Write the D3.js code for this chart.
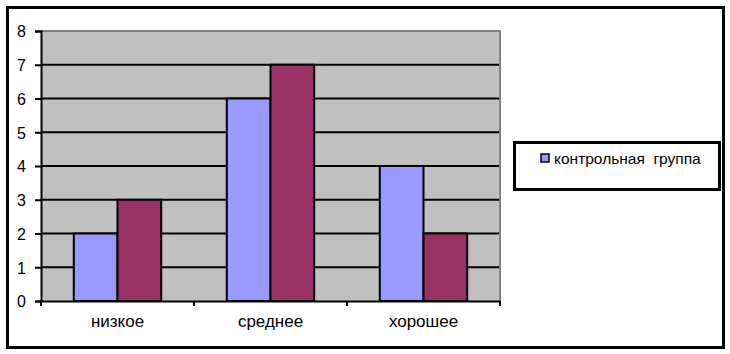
<!DOCTYPE html>
<html>
<head>
<meta charset="utf-8">
<script src="https://cdn.jsdelivr.net/npm/d3@7"></script>
<style>
  html, body { margin: 0; padding: 0; background: #fff; }
  svg text { font-family: 'Liberation Sans', Arial, sans-serif; fill: #000; }
</style>
</head>
<body>
<div id="chart"></div>
<script>
// values
const categories = ['низкое', 'среднее', 'хорошее'];
const seriesNames = ['контрольная  группа', 'экспериментальная группа'];
const controlValues = [2, 6, 4];
const experimentValues = [3, 7, 2];
const yTicks = [0, 1, 2, 3, 4, 5, 6, 7, 8];

const colors = ['#9999ff', '#993366'];

const width = 730;
const height = 354;
const plot = { left: 41, top: 31, right: 500, bottom: 301 };

const svg = d3.select('#chart').append('svg')
  .attr('width', width)
  .attr('height', height);

// outer frame
svg.append('rect')
  .attr('x', 7.5).attr('y', 7.5)
  .attr('width', 716).attr('height', 340)
  .attr('fill', '#fff')
  .attr('stroke', '#000')
  .attr('stroke-width', 3);

const x = d3.scaleBand()
  .domain(categories)
  .range([plot.left, plot.right])
  .paddingInner(0)
  .paddingOuter(0);

const y = d3.scaleLinear()
  .domain([0, 8])
  .range([plot.bottom, plot.top]);

// inner split of each category: 1.5 bar widths of gap, split on both sides
const barW = x.bandwidth() / 3.5;
const sub = d3.scaleBand()
  .domain([0, 1])
  .range([barW * 0.75, barW * 2.75]);

// plot area
svg.append('rect')
  .attr('x', plot.left).attr('y', plot.top)
  .attr('width', plot.right - plot.left)
  .attr('height', plot.bottom - plot.top)
  .attr('fill', '#c0c0c0');

// grid lines
svg.append('g')
  .selectAll('line')
  .data(yTicks.filter((d) => d > 0 && d < 8))
  .join('line')
  .attr('x1', plot.left).attr('x2', plot.right)
  .attr('y1', (d) => y(d)).attr('y2', (d) => y(d))
  .attr('stroke', '#000')
  .attr('stroke-width', 2);

// gray border on top and right
svg.append('path')
  .attr('d', `M${plot.left},${plot.top}H${plot.right}V${plot.bottom}`)
  .attr('fill', 'none')
  .attr('stroke', '#808080')
  .attr('stroke-width', 2);

// bars
const rows = categories.map((c, i) => ({
  cat: c,
  vals: [controlValues[i], experimentValues[i]],
}));

const groups = svg.append('g').selectAll('g')
  .data(rows)
  .join('g')
  .attr('transform', (d) => `translate(${x(d.cat)},0)`);

groups.selectAll('rect')
  .data((d) => d.vals.map((v, k) => ({ v, k })))
  .join('rect')
  .attr('x', (d) => sub(d.k))
  .attr('width', sub.bandwidth())
  .attr('y', (d) => y(d.v))
  .attr('height', (d) => y(0) - y(d.v))
  .attr('fill', (d) => colors[d.k])
  .attr('stroke', '#000')
  .attr('stroke-width', 2);

// y axis
const yAxis = svg.append('g')
  .attr('transform', `translate(${plot.left},0)`)
  .call(d3.axisLeft(y).tickValues(yTicks).tickSize(6).tickPadding(9));
yAxis.attr('font-size', 16).attr('font-family', null);
yAxis.select('.domain').attr('stroke', '#000').attr('stroke-width', 2);
yAxis.selectAll('.tick line').attr('stroke', '#000').attr('stroke-width', 2);
yAxis.selectAll('.tick text').attr('dy', '0.36em');

// x axis
const xAxis = svg.append('g')
  .attr('transform', `translate(0,${plot.bottom})`)
  .call(d3.axisBottom(x).tickSize(0).tickPadding(14));
xAxis.attr('font-size', 17).attr('font-family', null);
xAxis.select('.domain').attr('stroke', '#000').attr('stroke-width', 2);

// boundary ticks between categories
svg.append('g')
  .selectAll('line')
  .data(categories.map((c) => x(c)).concat([plot.right]))
  .join('line')
  .attr('x1', (d) => d).attr('x2', (d) => d)
  .attr('y1', plot.bottom).attr('y2', plot.bottom + 5)
  .attr('stroke', '#000')
  .attr('stroke-width', 2);

// legend (only the first series shows in the original)
const legend = svg.append('g');
legend.append('rect')
  .attr('x', 514.5).attr('y', 142.5)
  .attr('width', 205).attr('height', 47)
  .attr('fill', '#fff')
  .attr('stroke', '#000')
  .attr('stroke-width', 3);
legend.append('rect')
  .attr('x', 541).attr('y', 154)
  .attr('width', 8).attr('height', 8)
  .attr('fill', colors[0])
  .attr('stroke', '#000')
  .attr('stroke-width', 1.5);
legend.append('text')
  .attr('x', 554).attr('y', 164)
  .attr('font-size', 15.5)
  .style('white-space', 'pre')
  .text(seriesNames[0]);
</script>
</body>
</html>
